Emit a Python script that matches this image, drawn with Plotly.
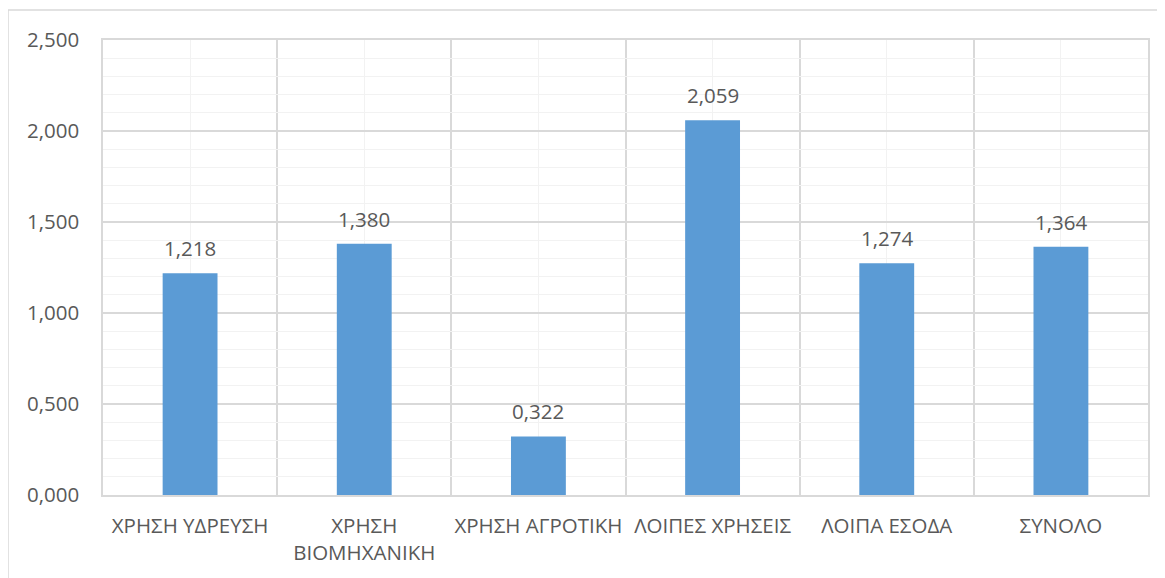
import plotly.graph_objects as go

categories = ["ΧΡΗΣΗ ΥΔΡΕΥΣΗ", "ΧΡΗΣΗ<br>ΒΙΟΜΗΧΑΝΙΚΗ", "ΧΡΗΣΗ ΑΓΡΟΤΙΚΗ",
              "ΛΟΙΠΕΣ ΧΡΗΣΕΙΣ", "ΛΟΙΠΑ ΕΣΟΔΑ", "ΣΥΝΟΛΟ"]
values = [1.218, 1.380, 0.322, 2.059, 1.274, 1.364]
y_ticks = [0, 0.5, 1.0, 1.5, 2.0, 2.5]

positions = list(range(len(categories)))
font = "Open Sans, Noto Sans, sans-serif"

fig = go.Figure(go.Bar(x=positions, y=values, width=0.315,
                       marker=dict(color="#5B9BD5", line=dict(width=0))))

# value labels above the bars
for p, v in zip(positions, values):
    fig.add_annotation(x=p, y=v, text=f"{v:.3f}".replace(".", ","),
                       showarrow=False, yanchor="bottom", yshift=9,
                       font=dict(family=font, size=20.5, color="#595959"))

# outer chart border (cut off on the right and bottom like the screenshot)
fig.add_shape(type="rect", xref="paper", yref="paper",
              x0=-0.0909, x1=1.2, y0=-0.4, y1=1.0659,
              line=dict(color="#D9D9D9", width=1.5), layer="below")

# page body adds an 8px offset, so the figure is a bit smaller than the window
fig.update_layout(
    width=1157, height=570,
    margin=dict(l=95, r=17, t=32, b=83, autoexpand=False),
    paper_bgcolor="white", plot_bgcolor="white",
    separators=",.",
    showlegend=False,
    font=dict(family=font, size=20.5, color="#595959"),
)
fig.update_xaxes(
    range=[-0.5, 5.5], tickvals=positions, ticktext=categories,
    showgrid=True, gridcolor="#F2F2F2", gridwidth=1,
    minor=dict(tick0=0.5, dtick=1, showgrid=True, gridcolor="#D9D9D9",
               gridwidth=1.5),
    ticks="outside", ticklen=12, tickcolor="rgba(0,0,0,0)",
    showline=True, linecolor="#D9D9D9", linewidth=1.5, mirror=True,
    zeroline=False, tickfont=dict(size=20.5, color="#595959"),
)
fig.update_yaxes(
    range=[0, 2.5], tickvals=y_ticks, tickformat=".3f",
    showgrid=True, gridcolor="#D9D9D9", gridwidth=1.5,
    minor=dict(dtick=0.1, showgrid=True, gridcolor="#F2F2F2", gridwidth=1),
    ticks="outside", ticklen=18, tickcolor="rgba(0,0,0,0)",
    showline=True, linecolor="#D9D9D9", linewidth=1.5, mirror=True,
    zeroline=False, tickfont=dict(size=20.5, color="#595959"),
)

fig.write_html("out.html")
